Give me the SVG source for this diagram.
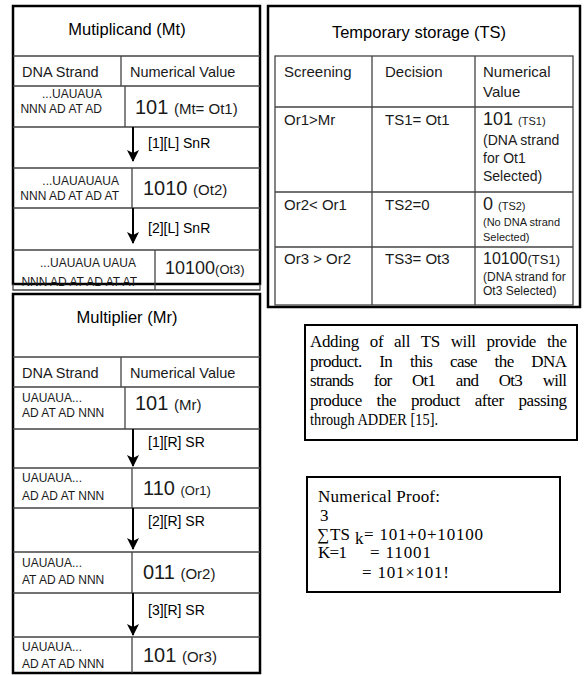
<svg xmlns="http://www.w3.org/2000/svg" width="584" height="675" viewBox="0 0 584 675">
<defs>
<marker id="ah" viewBox="0 0 12 12" refX="11" refY="6" markerWidth="12" markerHeight="12" markerUnits="userSpaceOnUse" orient="auto"><path d="M0,0 L12,6 L0,12 L3,6 z" fill="#000"/></marker>
<style>
.frame{fill:#fff;stroke:#000;stroke-width:2.5}
.box{fill:#fff;stroke:#000;stroke-width:2}
.ln{stroke:#444;stroke-width:1.3;fill:none}
.s{font-family:"Liberation Sans",Arial,sans-serif;fill:#1a1a1a}
.ttl{font-size:16.5px;text-anchor:middle;fill:#000}
.hd{font-size:14.5px}
.sm{font-size:12px}
.end{text-anchor:end}
.big{font-size:20px}
.lab{font-size:14px;fill:#000}
.ts{font-size:15px}
.t{font-family:"Liberation Serif","Times New Roman",serif;fill:#000;font-size:17px}
.arr{stroke:#000;stroke-width:2;fill:none;marker-end:url(#ah)}
</style>
</defs>
<rect width="584" height="675" fill="#fff"/>

<g id="multiplicand">
<rect class="frame" x="13" y="6" width="247" height="278"/>
<path class="ln" d="M13,56H260M13,86H260M13,127H260M13,168H260M13,208H260M13,250H260M121,56V86M125,86V127M132,168V208M155,250V290M13,284V290H260V284"/>
<text class="s ttl" x="127" y="35">Mutiplicand (Mt)</text>
<text class="s hd" x="22" y="77">DNA Strand</text>
<text class="s hd" x="130" y="77">Numerical Value</text>
<text class="s sm end" x="102" y="98">...UAUAUA</text>
<text class="s sm end" x="102" y="113">NNN AD AT AD</text>
<text class="s big" x="135" y="114">101 <tspan font-size="15">(Mt= Ot1)</tspan></text>
<text class="s lab" x="148" y="148">[1][L] SnR</text>
<text class="s sm end" x="119" y="185">...UAUAUAUA</text>
<text class="s sm end" x="119" y="200">NNN AD AT AD AT</text>
<text class="s big" x="143" y="195">1010 <tspan font-size="15">(Ot2)</tspan></text>
<text class="s lab" x="148" y="233">[2][L] SnR</text>
<text class="s sm end" x="136" y="267">...UAUAUA UAUA</text>
<text class="s sm end" x="137" y="286">NNN AD AT AD AT AT</text>
<text class="s" x="165" y="274" font-size="18">10100<tspan font-size="13">(Ot3)</tspan></text>
</g>

<g id="multiplier">
<rect class="frame" x="13" y="294" width="247" height="379"/>
<path class="ln" d="M13,357H260M13,387H260M13,429H260M13,468H260M13,508H260M13,552H260M13,593H260M13,637H260M121,357V387M125,387V429M132,468V508M132,552V593M132,637V673"/>
<text class="s ttl" x="127" y="323">Multiplier (Mr)</text>
<text class="s hd" x="22" y="378">DNA Strand</text>
<text class="s hd" x="130" y="378">Numerical Value</text>
<text class="s sm" x="22" y="402">UAUAUA...</text>
<text class="s sm" x="22" y="417">AD AT AD NNN</text>
<text class="s big" x="135" y="410">101 <tspan font-size="15">(Mr)</tspan></text>
<text class="s lab" x="148" y="447">[1][R] SR</text>
<text class="s sm" x="22" y="482">UAUAUA...</text>
<text class="s sm" x="22" y="500">AD AD AT NNN</text>
<text class="s big" x="143" y="495">110 <tspan font-size="13">(Or1)</tspan></text>
<text class="s lab" x="148" y="526">[2][R] SR</text>
<text class="s sm" x="22" y="567">UAUAUA...</text>
<text class="s sm" x="22" y="584">AT AD AD NNN</text>
<text class="s big" x="143" y="579">011 <tspan font-size="15">(Or2)</tspan></text>
<text class="s lab" x="148" y="615">[3][R] SR</text>
<text class="s sm" x="22" y="651">UAUAUA...</text>
<text class="s sm" x="22" y="668">AD AT AD NNN</text>
<text class="s big" x="143" y="662">101 <tspan font-size="15">(Or3)</tspan></text>
</g>

<g id="temporary-storage">
<rect class="frame" x="268" y="6" width="312" height="301"/>
<rect class="ln" x="275" y="56" width="298" height="249"/>
<path class="ln" d="M275,107H573M275,192H573M275,247H573M372,56V305M475,56V305"/>
<text class="s ttl" x="419" y="38" font-size="15.5">Temporary storage (TS)</text>
<text class="s ts" x="284" y="77">Screening</text>
<text class="s ts" x="385" y="77">Decision</text>
<text class="s ts" x="483" y="77">Numerical</text>
<text class="s ts" x="483" y="97">Value</text>
<text class="s ts" x="284" y="125">Or1&gt;Mr</text>
<text class="s ts" x="385" y="125">TS1= Ot1</text>
<text class="s" x="483" y="125" font-size="18">101 <tspan font-size="11">(TS1)</tspan></text>
<text class="s" x="483" y="145" font-size="14">(DNA strand</text>
<text class="s" x="483" y="163" font-size="14">for Ot1</text>
<text class="s" x="483" y="181" font-size="14">Selected)</text>
<text class="s ts" x="284" y="210">Or2&lt; Or1</text>
<text class="s ts" x="385" y="210">TS2=0</text>
<text class="s" x="483" y="210" font-size="18">0 <tspan font-size="11">(TS2)</tspan></text>
<text class="s" x="483" y="226" font-size="11">(No DNA strand</text>
<text class="s" x="483" y="241" font-size="11">Selected)</text>
<text class="s ts" x="284" y="264">Or3 &gt; Or2</text>
<text class="s ts" x="385" y="264">TS3= Ot3</text>
<text class="s" x="483" y="264" font-size="16">10100<tspan font-size="13">(TS1)</tspan></text>
<text class="s" x="483" y="281" font-size="12">(DNA strand for</text>
<text class="s" x="483" y="295" font-size="12">Ot3 Selected)</text>
</g>

<g id="adder-note">
<rect class="box" x="305" y="325" width="272" height="115"/>
<text class="t" x="310" y="347" word-spacing="7" textLength="257" lengthAdjust="spacing">Adding of all TS will provide the</text>
<text class="t" x="310" y="366.5" word-spacing="14" textLength="257" lengthAdjust="spacing">product. In this case the DNA</text>
<text class="t" x="310" y="386" word-spacing="17" textLength="257" lengthAdjust="spacing">strands for Ot1 and Ot3 will</text>
<text class="t" x="310" y="405.5" word-spacing="11" textLength="257" lengthAdjust="spacing">produce the product after passing</text>
<text class="t" x="310" y="425" textLength="128" lengthAdjust="spacingAndGlyphs">through ADDER [15].</text>
</g>

<g id="numerical-proof">
<rect class="box" x="307" y="477" width="253" height="115"/>
<text class="t" x="318" y="502" textLength="122" lengthAdjust="spacing">Numerical Proof:</text>
<text class="t" x="320" y="521">3</text>
<text class="t" x="317" y="540" font-size="18">∑</text>
<text class="t" x="330" y="540">TS</text>
<text class="t" x="355" y="544" font-size="11">k</text>
<text class="t" x="364" y="540" textLength="119" lengthAdjust="spacing">= 101+0+10100</text>
<text class="t" x="318" y="558" textLength="29" lengthAdjust="spacing">K=1</text>
<text class="t" x="370" y="558" textLength="61" lengthAdjust="spacing">= 11001</text>
<text class="t" x="362" y="578" textLength="87" lengthAdjust="spacing">= 101×101!</text>
</g>

<g id="connectors">
<line class="arr" x1="133" y1="127" x2="133" y2="161"/>
<line class="arr" x1="133" y1="208" x2="133" y2="243"/>
<line class="arr" x1="133" y1="429" x2="133" y2="466"/>
<line class="arr" x1="133" y1="508" x2="133" y2="549"/>
<line class="arr" x1="133" y1="593" x2="133" y2="635"/>
</g>
</svg>
